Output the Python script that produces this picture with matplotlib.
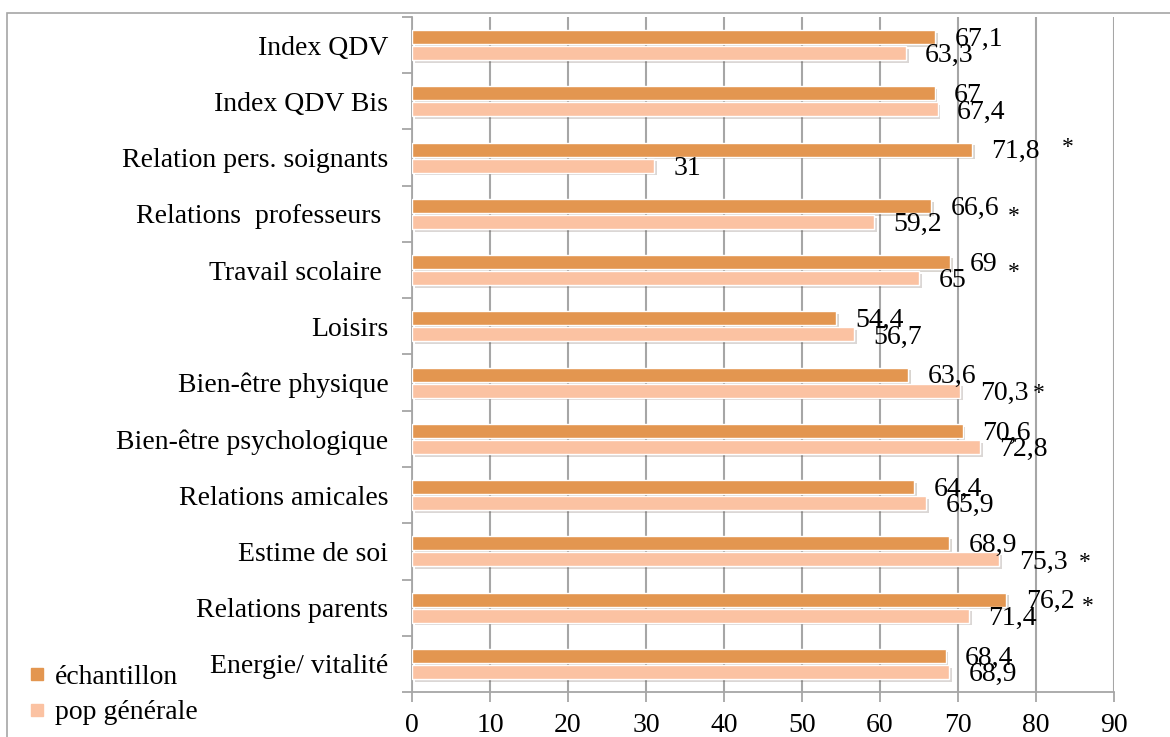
import matplotlib
matplotlib.use("Agg")
import matplotlib.pyplot as plt
import matplotlib.patheffects as pe
from matplotlib.lines import Line2D
from matplotlib.patches import Rectangle
import numpy as np

plt.rcParams['font.family'] = ['Liberation Serif', 'DejaVu Serif']

categories = ["Index QDV", "Index QDV Bis", "Relation pers. soignants",
              "Relations  professeurs ", "Travail scolaire ", "Loisirs",
              "Bien-être physique", "Bien-être psychologique",
              "Relations amicales", "Estime de soi", "Relations parents",
              "Energie/ vitalité"]
echantillon = [67.1, 67, 71.8, 66.6, 69, 54.4, 63.6, 70.6, 64.4, 68.9, 76.2, 68.4]
pop_generale = [63.3, 67.4, 31, 59.2, 65, 56.7, 70.3, 72.8, 65.9, 75.3, 71.4, 68.9]

# asterisks: (category index, x position, vertical shift in bar offsets)
stars = [(2, 84.1, -1.6), (3, 77.2, 0), (4, 77.2, 0), (6, 80.3, 1),
         (9, 86.3, 1), (10, 86.7, -0.5)]

c_ech = "#E39650"
c_pop = "#FBC2A2"
grid_c = "#A6A6A6"

fig = plt.figure(figsize=(11.7, 7.37), dpi=100)
ax = fig.add_axes([412/1170, 1-692/737, 702/1170, 675/737])

y = np.arange(len(categories))
off = 0.142
h = 0.25
shadow = [pe.SimplePatchShadow(offset=(2, -2), alpha=0.2), pe.Normal()]

b1 = ax.barh(y - off, echantillon, height=h, color=c_ech, edgecolor="white",
             linewidth=1.0, zorder=3)
b2 = ax.barh(y + off, pop_generale, height=h, color=c_pop, edgecolor="white",
             linewidth=1.0, zorder=3)
for b in list(b1) + list(b2):
    b.set_path_effects(shadow)

def fmt(v):
    return ("%g" % v).replace(".", ",")

# value labels next to the bars
for yi, v in zip(y - off, echantillon):
    ax.annotate(fmt(v), (v, yi), xytext=(14, -1.5), textcoords="offset points",
                ha="left", va="center", fontsize=20, zorder=5)
for yi, v in zip(y + off, pop_generale):
    ax.annotate(fmt(v), (v, yi), xytext=(14, -2), textcoords="offset points",
                ha="left", va="center", fontsize=20, zorder=5)

for ci, xs, dy in stars:
    ax.text(xs, ci + dy * off + 0.05, "*", ha="center", va="center", fontsize=17)

ax.set_xlim(0, 90)
ax.set_ylim(len(categories) - 0.5, -0.5)
ax.set_xticks(np.arange(0, 91, 10))
ax.tick_params(axis="x", length=7, color=grid_c, width=1.3, labelsize=20, pad=8)
ax.set_yticks(y)
ax.set_yticklabels(categories, fontsize=20)
ax.tick_params(axis="y", which="major", length=0, pad=17)
ax.set_yticks(np.arange(-0.5, len(categories), 1), minor=True)
ax.tick_params(axis="y", which="minor", length=7, color=grid_c, width=1.3)
ax.grid(axis="x", color=grid_c, linewidth=1.5, zorder=0)
ax.set_axisbelow(True)
for s in ["top", "right"]:
    ax.spines[s].set_visible(False)
for s in ["left", "bottom"]:
    ax.spines[s].set_color(grid_c)
    ax.spines[s].set_linewidth(1.3)

handles = [Line2D([], [], marker="s", linestyle="none", color=c_ech, markersize=8),
           Line2D([], [], marker="s", linestyle="none", color=c_pop, markersize=8)]
fig.legend(handles, ["échantillon", "pop générale"], loc="center left",
           bbox_to_anchor=(12/1170, 1-695/737), frameon=False, fontsize=20,
           handletextpad=0.15, labelspacing=0.35, handlelength=1.0,
           borderaxespad=0)

# outer frame of the chart area
fig.add_artist(Rectangle((7/1170, -0.1), 1.2, 1.1 - 13/737, transform=fig.transFigure,
                         fill=False, edgecolor=grid_c, linewidth=1.2))

fig.savefig("out.png", dpi=100)
